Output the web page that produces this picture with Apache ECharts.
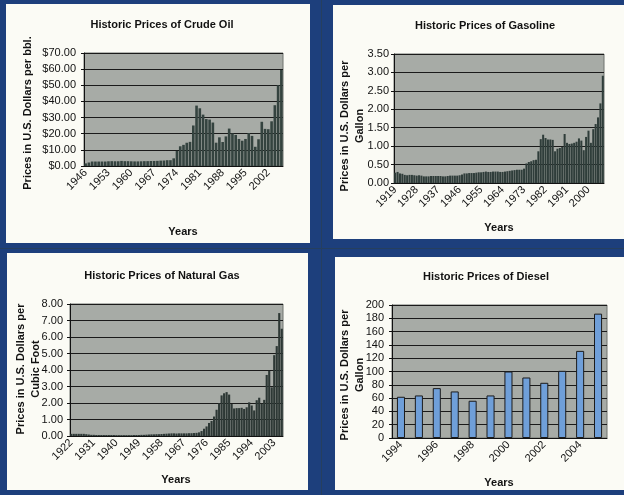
<!DOCTYPE html>
<html>
<head>
<meta charset="utf-8">
<script src="https://cdn.jsdelivr.net/npm/echarts@6/dist/echarts.min.js"></script>
<style>
  html, body { margin: 0; padding: 0; background: #1d3f7c; }
  .panel { position: absolute; background: #fbfbf5; }
  .rule { position: absolute; background: #263f5e; }
  #chart { position: absolute; left: 0; top: 0; width: 624px; height: 495px; }
</style>
</head>
<body>
<div class="panel" style="left:6px;top:4px;width:304px;height:239px"></div>
<div class="panel" style="left:333px;top:5px;width:291px;height:234px"></div>
<div class="panel" style="left:7px;top:253px;width:301px;height:237px"></div>
<div class="panel" style="left:335px;top:257px;width:289px;height:233px"></div>
<div class="rule" style="left:321px;top:0;width:1px;height:495px"></div>
<div class="rule" style="left:0;top:248px;width:624px;height:1px"></div>
<div id="chart"></div>
<script>
// Year ranges for the category axes
function yearRange(from, to) {
  const out = [];
  for (let y = from; y <= to; y++) out.push(String(y));
  return out;
}

const crudeYears = yearRange(1946, 2006);
const gasolineYears = yearRange(1919, 2006);
const naturalGasYears = yearRange(1922, 2006);
const dieselYears = yearRange(1994, 2005);

// Crude oil, dollars per barrel (1946-2006)
const crudePrices = [
  1.63, 2.16, 2.77, 2.77, 2.77, 2.77, 2.77, 2.92, 2.99, 2.93,
  2.94, 3.14, 3.00, 3.00, 2.91, 2.85, 2.85, 2.91, 3.00, 3.01,
  3.10, 3.12, 3.18, 3.32, 3.39, 3.60, 3.60, 4.75, 9.35, 12.21,
  13.10, 14.40, 14.95, 25.10, 37.42, 35.75, 31.83, 29.08, 28.75, 26.92,
  14.44, 17.75, 14.87, 18.33, 23.19, 20.20, 19.25, 16.75, 15.66, 16.75,
  20.46, 18.64, 11.91, 16.56, 27.39, 23.00, 22.81, 27.69, 37.66, 50.04,
  59.50
];

// Gasoline, dollars per gallon (1919-2006)
const gasolinePrices = [
  0.28,
  0.30, 0.26, 0.25, 0.22, 0.21, 0.22, 0.22, 0.21, 0.20, 0.21,
  0.20, 0.18, 0.18, 0.18, 0.19, 0.19, 0.19, 0.19, 0.19, 0.18,
  0.18, 0.19, 0.20, 0.20, 0.20, 0.20, 0.21, 0.23, 0.26, 0.26,
  0.27, 0.27, 0.27, 0.28, 0.29, 0.29, 0.30, 0.31, 0.30, 0.30,
  0.31, 0.31, 0.31, 0.30, 0.30, 0.31, 0.32, 0.33, 0.34, 0.35,
  0.36, 0.36, 0.36, 0.39, 0.53, 0.57, 0.59, 0.62, 0.63, 0.86,
  1.19, 1.31, 1.22, 1.18, 1.18, 1.17, 0.86, 0.93, 0.95, 0.98,
  1.33, 1.09, 1.06, 1.07, 1.09, 1.12, 1.21, 1.15, 0.89, 1.25,
  1.42, 1.09, 1.46, 1.60, 1.78, 2.16, 2.91
];

// Natural gas, dollars per thousand cubic feet (1922-2006)
const naturalGasPrices = [
  0.13, 0.13, 0.13, 0.13, 0.13, 0.13, 0.11, 0.09,
  0.07, 0.07, 0.06, 0.06, 0.06, 0.06, 0.06, 0.06, 0.06, 0.06,
  0.05, 0.05, 0.05, 0.05, 0.05, 0.05, 0.05, 0.06, 0.06, 0.06,
  0.07, 0.07, 0.08, 0.09, 0.10, 0.10, 0.11, 0.11, 0.12, 0.13,
  0.14, 0.15, 0.16, 0.16, 0.15, 0.16, 0.16, 0.16, 0.16, 0.17,
  0.17, 0.18, 0.19, 0.22, 0.30, 0.44, 0.58, 0.79, 0.91, 1.18,
  1.59, 1.98, 2.46, 2.59, 2.66, 2.51, 1.94, 1.67, 1.69, 1.69,
  1.71, 1.64, 1.74, 2.04, 1.85, 1.55, 2.17, 2.32, 1.96, 2.19,
  3.70, 3.95, 2.95, 4.90, 5.45, 7.45, 6.50
];

// Diesel, cents per gallon (1994-2005)
const dieselPrices = [62, 64, 75, 70, 56, 64, 100, 91, 83, 101, 131, 187];

const FONT = '"Liberation Sans", Arial, sans-serif';
const INK = '#111111';
const PLOT_BG = '#a7aba6';

function grid(left, top, width, height) {
  return {
    left, top, width, height, show: true,
    backgroundColor: PLOT_BG, borderColor: '#6f726f', borderWidth: 1
  };
}

function catAxis(idx, data, every) {
  return {
    type: 'category', gridIndex: idx, data, boundaryGap: true,
    axisLine: { lineStyle: { color: INK, width: 1 } },
    axisTick: { interval: 0, length: 3, lineStyle: { color: INK } },
    axisLabel: {
      interval: every, rotate: 45, margin: 5,
      fontSize: 11, fontFamily: FONT, color: INK
    },
    splitLine: { show: false }
  };
}

function valAxis(idx, max, step, fmt, margin) {
  return {
    type: 'value', gridIndex: idx, min: 0, max, interval: step,
    axisLine: { show: true, lineStyle: { color: INK, width: 1 } },
    axisTick: { show: true, length: 3, lineStyle: { color: INK } },
    axisLabel: { formatter: fmt, fontSize: 11, fontFamily: FONT, color: INK, margin },
    splitLine: { lineStyle: { color: '#1a1a1a', width: 1 } }
  };
}

function label(text, x, y, opts) {
  return Object.assign({
    type: 'text', x, y, z: 100,
    style: {
      text, fill: INK, font: 'bold 11px ' + FONT,
      align: 'center', verticalAlign: 'middle', lineHeight: 15
    }
  }, opts || {});
}

const UP = { rotation: Math.PI / 2 };

const option = {
  backgroundColor: 'transparent',
  animation: false,
  grid: [
    grid(84, 53, 199, 113),
    grid(394, 54, 210, 129),
    grid(70, 304, 213, 132),
    grid(392, 305, 215, 133)
  ],
  xAxis: [
    catAxis(0, crudeYears, 6),
    catAxis(1, gasolineYears, 8),
    catAxis(2, naturalGasYears, 8),
    catAxis(3, dieselYears, 1)
  ],
  yAxis: [
    valAxis(0, 70, 10, v => '$' + v.toFixed(2), 8),
    valAxis(1, 3.5, 0.5, v => v.toFixed(2), 5),
    valAxis(2, 8, 1, v => v.toFixed(2), 7),
    valAxis(3, 200, 20, v => String(v), 8)
  ],
  series: [
    {
      type: 'bar', xAxisIndex: 0, yAxisIndex: 0, data: crudePrices,
      barCategoryGap: '20%', itemStyle: { color: '#34433f' }
    },
    {
      type: 'bar', xAxisIndex: 1, yAxisIndex: 1, data: gasolinePrices,
      barCategoryGap: '15%', itemStyle: { color: '#2f3d3a' }
    },
    {
      type: 'bar', xAxisIndex: 2, yAxisIndex: 2, data: naturalGasPrices,
      barCategoryGap: '15%', itemStyle: { color: '#2d3835' }
    },
    {
      type: 'bar', xAxisIndex: 3, yAxisIndex: 3, data: dieselPrices,
      barCategoryGap: '55%',
      itemStyle: { color: '#6f9fd9', borderColor: '#1c1c1c', borderWidth: 1 }
    }
  ],
  graphic: [
    label('Historic Prices of Crude Oil', 162, 25),
    label('Historic Prices of Gasoline', 485, 26),
    label('Historic Prices of Natural Gas', 162, 276),
    label('Historic Prices of Diesel', 486, 277),

    label('Prices in U.S. Dollars per bbl.', 28, 113, UP),
    label('Prices in U.S. Dollars per\nGallon', 352, 126, UP),
    label('Prices in U.S. Dollars per\nCubic Foot', 28, 369, UP),
    label('Prices in U.S. Dollars per\nGallon', 352, 375, UP),

    label('Years', 183, 232),
    label('Years', 499, 228),
    label('Years', 176, 480),
    label('Years', 499, 483)
  ]
};

const chart = echarts.init(document.getElementById('chart'), null, { renderer: 'canvas' });
chart.setOption(option);
</script>
</body>
</html>
